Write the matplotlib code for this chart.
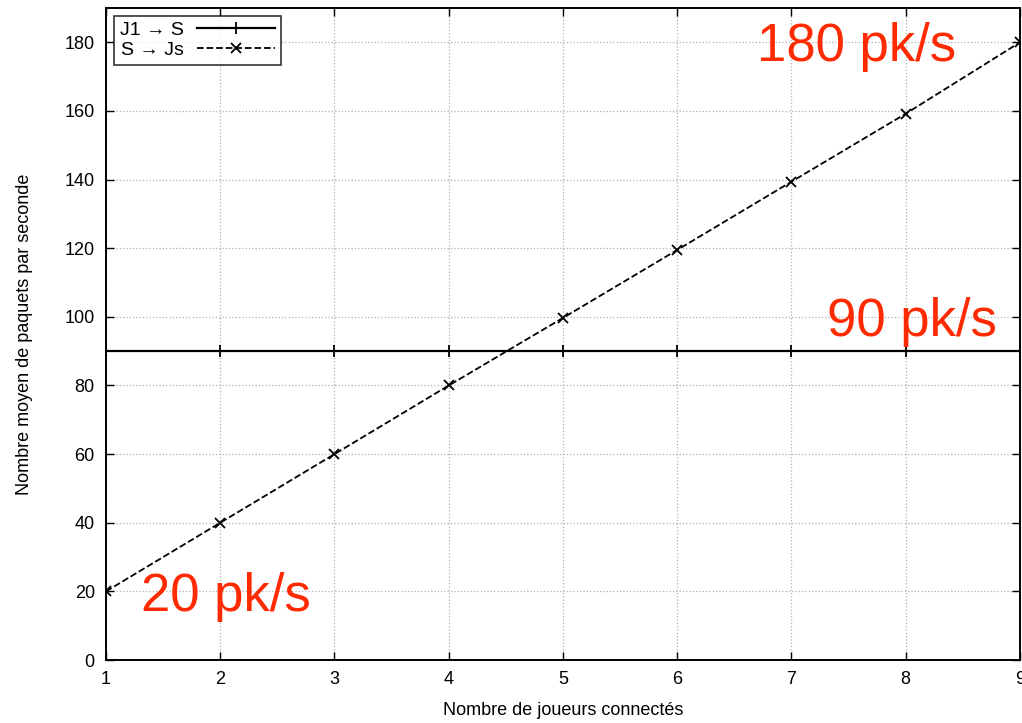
import matplotlib.pyplot as plt

plt.rcParams["font.family"] = ["Liberation Sans", "DejaVu Sans"]

joueurs = [1, 2, 3, 4, 5, 6, 7, 8, 9]
j1_vers_s = [90, 90, 90, 90, 90, 90, 90, 90, 90]
s_vers_js = [20, 40, 60, 80, 99.7, 119.5, 139.4, 159.2, 180]
x_ticks = [1, 2, 3, 4, 5, 6, 7, 8, 9]
y_ticks = [0, 20, 40, 60, 80, 100, 120, 140, 160, 180]

fig = plt.figure(figsize=(10.22, 7.23), dpi=100)
ax = fig.add_axes([0.1037, 0.0871, 0.8943, 0.9018])

ax.plot(joueurs, j1_vers_s, color="black", linestyle="-", linewidth=1.6,
        marker="+", markersize=8, markeredgewidth=1.3, label="J1 → S")
ax.plot(joueurs, s_vers_js, color="black", linestyle="--", linewidth=1.3,
        marker="x", markersize=7, markeredgewidth=1.3, label="S → Js")

ax.set_xlim(1, 9)
ax.set_ylim(0, 190)
ax.set_xticks(x_ticks)
ax.set_yticks(y_ticks)
ax.tick_params(direction="in", top=True, right=True, length=6, width=1,
               labelsize=13, pad=8)
ax.grid(True, color="#b0b0b0", linestyle=":", linewidth=0.9)
for s in ax.spines.values():
    s.set_linewidth(1.4)

ax.set_xlabel("Nombre de joueurs connectés", fontsize=13, labelpad=10)
ax.set_ylabel("Nombre moyen de paquets par seconde", fontsize=13, labelpad=23)

leg = ax.legend(loc="upper left", fontsize=14, frameon=True, fancybox=False,
                edgecolor="black", handlelength=4.0, borderpad=0.3,
                labelspacing=0.1, markerfirst=False, borderaxespad=0.4,
                handletextpad=0.7)
leg.get_frame().set_linewidth(1.2)

rouge = "#ff2a00"
ax.text(0.93, 0.94, "180 pk/s", transform=ax.transAxes, color=rouge,
        fontsize=38, ha="right", va="center")
ax.text(0.975, 0.519, "90 pk/s", transform=ax.transAxes, color=rouge,
        fontsize=38, ha="right", va="center")
ax.text(0.038, 0.097, "20 pk/s", transform=ax.transAxes, color=rouge,
        fontsize=38, ha="left", va="center")

fig.savefig("out.png", dpi=100)
